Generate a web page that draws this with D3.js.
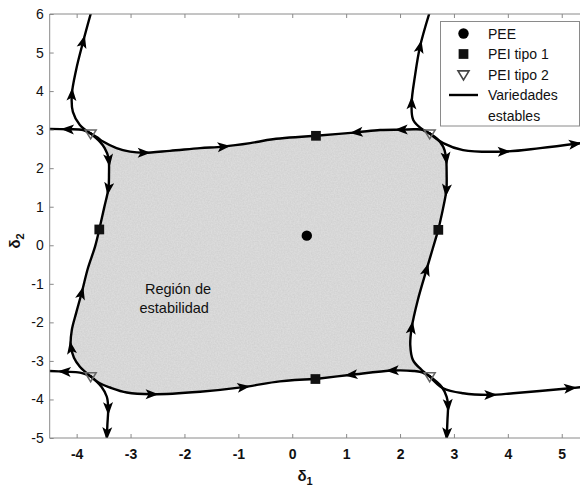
<!DOCTYPE html>
<html>
<head>
<meta charset="utf-8">
<script src="https://cdn.jsdelivr.net/npm/d3@7"></script>
<style>
  html, body { margin: 0; padding: 0; background: #fff; }
  svg { display: block; font-family: "Liberation Sans", Arial, Helvetica, sans-serif; }
</style>
</head>
<body>
<svg id="chart" width="580" height="488"></svg>
<script>
// ---------------- data ----------------
const xTicks = [-4, -3, -2, -1, 0, 1, 2, 3, 4, 5];
const yTicks = [-5, -4, -3, -2, -1, 0, 1, 2, 3, 4, 5, 6];

const pee = [[0.27, 0.25]];
const peiTipo1 = [[0.44, 2.84], [-3.58, 0.41], [2.71, 0.40], [0.43, -3.47]];
const peiTipo2 = [[-3.74, 2.90], [2.55, 2.90], [-3.74, -3.40], [2.55, -3.40]];

// boundary of the stability region (each from a type-2 point to a type-1 point)
const topFromTL = [[-3.74, 2.90], [-3.62, 2.80], [-3.51, 2.69], [-3.26, 2.52], [-3.01, 2.43], [-2.76, 2.40], [-2.27, 2.45], [-1.71, 2.52], [-1.28, 2.56], [-0.78, 2.65], [-0.36, 2.75], [0.44, 2.84]];
const topFromTR = [[2.55, 2.90], [2.44, 2.99], [2.28, 3.01], [2.03, 3.00], [1.63, 2.99], [1.20, 2.93], [0.44, 2.84]];
const leftFromTL = [[-3.74, 2.90], [-3.57, 2.69], [-3.48, 2.52], [-3.41, 2.27], [-3.40, 1.82], [-3.41, 1.48], [-3.49, 0.97], [-3.58, 0.41]];
const leftFromBL = [[-3.74, -3.40], [-3.94, -3.15], [-4.05, -2.92], [-4.11, -2.59], [-4.09, -2.20], [-4.01, -1.76], [-3.91, -1.25], [-3.79, -0.59], [-3.66, -0.04], [-3.58, 0.41]];
const rightFromTR = [[2.55, 2.90], [2.69, 2.76], [2.80, 2.56], [2.85, 2.32], [2.865, 1.82], [2.86, 1.44], [2.80, 0.97], [2.71, 0.40]];
const rightFromBR = [[2.55, -3.40], [2.39, -3.22], [2.24, -2.98], [2.19, -2.59], [2.215, -2.15], [2.33, -1.42], [2.49, -0.64], [2.61, -0.07], [2.71, 0.40]];
const bottomFromBL = [[-3.74, -3.40], [-3.57, -3.58], [-3.38, -3.69], [-3.07, -3.82], [-2.61, -3.865], [-1.71, -3.80], [-0.91, -3.68], [-0.23, -3.53], [0.43, -3.47]];
const bottomFromBR = [[2.55, -3.40], [2.39, -3.29], [2.245, -3.26], [1.87, -3.25], [1.10, -3.36], [0.43, -3.47]];

// outer stable-manifold arms (from type-2 point outwards)
const upFromTL = [[-3.74, 2.90], [-3.94, 3.12], [-4.07, 3.46], [-4.09, 3.90], [-4.01, 4.55], [-3.88, 5.28], [-3.74, 6.0]];
const leftFromTLOut = [[-3.74, 2.90], [-3.88, 2.99], [-4.16, 3.01], [-4.5, 3.02]];
const upFromTR = [[2.55, 2.90], [2.43, 2.99], [2.245, 3.25], [2.215, 3.68], [2.28, 4.42], [2.37, 5.15], [2.54, 6.0]];
const rightFromTROut = [[2.55, 2.90], [2.80, 2.65], [3.17, 2.47], [3.92, 2.43], [4.60, 2.52], [5.36, 2.65]];
const leftFromBLOut = [[-3.74, -3.40], [-3.94, -3.305], [-4.22, -3.28], [-4.5, -3.26]];
const downFromBL = [[-3.74, -3.40], [-3.54, -3.67], [-3.44, -3.93], [-3.415, -4.23], [-3.43, -4.66], [-3.44, -5.0]];
const rightFromBROut = [[2.55, -3.40], [2.80, -3.71], [3.17, -3.84], [3.67, -3.88], [4.10, -3.84], [5.15, -3.71], [5.36, -3.68]];
const downFromBR = [[2.55, -3.40], [2.77, -3.67], [2.865, -3.93], [2.89, -4.14], [2.88, -4.53], [2.865, -5.0]];

const manifolds = [topFromTL, topFromTR, leftFromTL, leftFromBL, rightFromTR, rightFromBR, bottomFromBL, bottomFromBR,
                   upFromTL, leftFromTLOut, upFromTR, rightFromTROut, leftFromBLOut, downFromBL, rightFromBROut, downFromBR];

// arrows: [manifold index, x, y] (direction follows the manifold's order)
const arrows = [
  [0, -2.76, 2.40], [0, -1.28, 2.56],
  [1, 1.20, 2.93], [1, 2.03, 3.00],
  [2, -3.41, 2.21], [2, -3.41, 1.48],
  [3, -3.91, -1.25], [3, -4.11, -2.67],
  [4, 2.86, 2.26], [4, 2.865, 1.43],
  [5, 2.49, -0.64], [5, 2.215, -2.15],
  [6, -2.61, -3.865], [6, -0.91, -3.68],
  [7, 1.10, -3.36], [7, 1.87, -3.25],
  [8, -4.09, 3.90], [8, -3.88, 5.28],
  [9, -4.16, 3.01],
  [10, 2.215, 3.68], [10, 2.37, 5.15],
  [11, 3.92, 2.43], [11, 5.24, 2.63],
  [12, -4.22, -3.28],
  [13, -3.415, -4.23], [13, -3.44, -4.88],
  [14, 3.67, -3.88], [14, 5.15, -3.71],
  [15, 2.89, -4.14], [15, 2.865, -4.88]
];

const legendLabels = ["PEE", "PEI tipo 1", "PEI tipo 2", "Variedades", "estables"];
const regionLabel = ["Región de", "estabilidad"];

// ---------------- drawing ----------------
const svg = d3.select("#chart");
const x = d3.scaleLinear().domain([-4.5, 5.35]).range([49.7, 580.6]);
const y = d3.scaleLinear().domain([-5, 6]).range([438, 14]);
const X0 = x(-4.5), X1 = x(5.35), Y0 = y(6), Y1 = y(-5);

const defs = svg.append("defs");
defs.append("clipPath").attr("id", "plotclip")
  .append("rect").attr("x", X0).attr("y", Y0).attr("width", X1 - X0).attr("height", Y1 - Y0);

// grain texture for the region
const f = defs.append("filter").attr("id", "grain").attr("x", 0).attr("y", 0).attr("width", 1).attr("height", 1);
f.append("feTurbulence").attr("type", "fractalNoise").attr("baseFrequency", 0.7).attr("numOctaves", 2).attr("seed", 3).attr("result", "noise");
f.append("feColorMatrix").attr("in", "noise").attr("type", "matrix")
  .attr("values", "0 0 0 0 0.35  0 0 0 0 0.35  0 0 0 0 0.35  0 0 0 -0.35 0.26").attr("result", "dots");
f.append("feComposite").attr("in", "dots").attr("in2", "SourceGraphic").attr("operator", "in").attr("result", "d2");
f.append("feMerge").call(m => { m.append("feMergeNode").attr("in", "SourceGraphic"); m.append("feMergeNode").attr("in", "d2"); });

const line = d3.line().x(d => x(d[0])).y(d => y(d[1])).curve(d3.curveCatmullRom.alpha(0.5));

// region fill: closed loop built from the boundary manifolds
const rev = a => a.slice().reverse();
const loopParts = [topFromTL, rev(topFromTR), rightFromTR, rev(rightFromBR), bottomFromBR, rev(bottomFromBL), leftFromBL, rev(leftFromTL)];
let loop = [];
loopParts.forEach((p, i) => { loop = loop.concat(i === 0 ? p : p.slice(1)); });
loop = loop.slice(0, -1);
const closedLine = d3.line().x(d => x(d[0])).y(d => y(d[1])).curve(d3.curveCatmullRomClosed.alpha(0.5));

const plot = svg.append("g").attr("clip-path", "url(#plotclip)");
plot.append("path").attr("d", closedLine(loop)).attr("fill", "#dcdcdc").attr("filter", "url(#grain)");

// region label
svg.append("text").attr("x", x(-2.12)).attr("y", y(-1.27)).attr("text-anchor", "middle")
  .attr("font-size", 14.5).attr("fill", "#111").text(regionLabel[0]);
svg.append("text").attr("x", x(-2.19)).attr("y", y(-1.76)).attr("text-anchor", "middle")
  .attr("font-size", 14.5).attr("fill", "#111").text(regionLabel[1]);

// axes frame and ticks
const axisColor = "#8a8a8a";
svg.append("line").attr("x1", X0).attr("x2", X1).attr("y1", Y0).attr("y2", Y0).attr("stroke", axisColor);
svg.append("line").attr("x1", X0).attr("x2", X1).attr("y1", Y1).attr("y2", Y1).attr("stroke", axisColor);
svg.append("line").attr("x1", X0).attr("x2", X0).attr("y1", Y0).attr("y2", Y1).attr("stroke", axisColor);

const xAxisB = d3.axisBottom(x).tickValues(xTicks).tickSize(-4).tickPadding(11).tickFormat(d3.format("d"));
const gxb = svg.append("g").attr("transform", `translate(0,${Y1})`).call(xAxisB);
gxb.select(".domain").remove();
gxb.selectAll(".tick line").attr("stroke", axisColor);
gxb.selectAll(".tick text").attr("font-size", 14).attr("font-weight", "bold").attr("fill", "#111")
  .attr("font-family", "Liberation Sans, Arial, sans-serif").text(d => d < 0 ? "-" + Math.abs(d) : d);

const xAxisT = d3.axisTop(x).tickValues(xTicks).tickSize(-4).tickFormat("");
const gxt = svg.append("g").attr("transform", `translate(0,${Y0})`).call(xAxisT);
gxt.select(".domain").remove();
gxt.selectAll(".tick line").attr("stroke", axisColor);

const yAxis = d3.axisLeft(y).tickValues(yTicks).tickSize(-4).tickPadding(6).tickFormat(d3.format("d"));
const gy = svg.append("g").attr("transform", `translate(${X0},0)`).call(yAxis);
gy.select(".domain").remove();
gy.selectAll(".tick line").attr("stroke", axisColor);
gy.selectAll(".tick text").attr("font-size", 14).attr("fill", "#111")
  .attr("font-family", "Liberation Sans, Arial, sans-serif").text(d => d < 0 ? "-" + Math.abs(d) : d);

// axis labels
const xl = svg.append("text").attr("x", 305).attr("y", 481).attr("text-anchor", "middle")
  .attr("font-size", 15).attr("font-weight", "bold").attr("fill", "#111");
xl.append("tspan").text("δ");
xl.append("tspan").attr("font-size", 11).attr("dy", 4).text("1");

const yl = svg.append("text").attr("transform", "translate(20,241) rotate(-90)").attr("text-anchor", "middle")
  .attr("font-size", 15).attr("font-weight", "bold").attr("fill", "#111");
yl.append("tspan").text("δ");
yl.append("tspan").attr("font-size", 11).attr("dy", 4).text("2");

// manifolds
const paths = plot.selectAll("path.man").data(manifolds).join("path").attr("class", "man")
  .attr("d", line).attr("fill", "none").attr("stroke", "#000").attr("stroke-width", 2.4)
  .attr("stroke-linejoin", "round").attr("stroke-linecap", "round");

// arrowheads oriented along the manifolds
const pathNodes = paths.nodes();
const arrowShape = "M7,0 L-6,-5 L-3,0 L-6,5 Z";
arrows.forEach(([k, ax, ay]) => {
  const node = pathNodes[k];
  const L = node.getTotalLength();
  const tx = x(ax), ty = y(ay);
  let best = 0, bd = Infinity;
  for (let l = 0; l <= L; l += 0.5) {
    const p = node.getPointAtLength(l);
    const d = (p.x - tx) ** 2 + (p.y - ty) ** 2;
    if (d < bd) { bd = d; best = l; }
  }
  const p = node.getPointAtLength(best);
  const p1 = node.getPointAtLength(Math.max(0, best - 2));
  const p2 = node.getPointAtLength(Math.min(L, best + 2));
  const ang = Math.atan2(p2.y - p1.y, p2.x - p1.x) * 180 / Math.PI;
  plot.append("path").attr("d", arrowShape).attr("fill", "#000")
    .attr("transform", `translate(${p.x},${p.y}) rotate(${ang})`);
});

// equilibrium markers
const sym = {
  circle: d3.symbol().type(d3.symbolCircle).size(85),
  square: d3.symbol().type(d3.symbolSquare).size(95)
};
const triPath = "M-5.5,-3.6 L5.5,-3.6 L0,5.4 Z";

svg.selectAll("path.pee").data(pee).join("path").attr("class", "pee")
  .attr("d", sym.circle()).attr("fill", "#000")
  .attr("transform", d => `translate(${x(d[0])},${y(d[1])})`);
svg.selectAll("path.p1").data(peiTipo1).join("path").attr("class", "p1")
  .attr("d", sym.square()).attr("fill", "#111")
  .attr("transform", d => `translate(${x(d[0])},${y(d[1])})`);
svg.selectAll("path.p2").data(peiTipo2).join("path").attr("class", "p2")
  .attr("d", triPath).attr("fill", "none").attr("stroke", "#666").attr("stroke-width", 1.5)
  .attr("transform", d => `translate(${x(d[0])},${y(d[1])})`);

// legend
const lg = svg.append("g");
lg.append("rect").attr("x", 440.5).attr("y", 21.5).attr("width", 139).attr("height", 104.5)
  .attr("fill", "#fff").attr("stroke", "#8a8a8a");
const lx = 463.5, tx0 = 488;
lg.append("path").attr("d", sym.circle()).attr("fill", "#000").attr("transform", `translate(${lx},33.5)`);
lg.append("path").attr("d", sym.square()).attr("fill", "#111").attr("transform", `translate(${lx},54)`);
lg.append("path").attr("d", triPath).attr("fill", "none").attr("stroke", "#444").attr("stroke-width", 1.6).attr("transform", `translate(${lx},74.5)`);
lg.append("line").attr("x1", 449).attr("x2", 478).attr("y1", 95).attr("y2", 95).attr("stroke", "#000").attr("stroke-width", 2.4);
const ly = [38.5, 59, 80, 100, 120.5];
legendLabels.forEach((t, i) => {
  lg.append("text").attr("x", tx0).attr("y", ly[i]).attr("font-size", 14).attr("fill", "#111").text(t);
});
</script>
</body>
</html>
